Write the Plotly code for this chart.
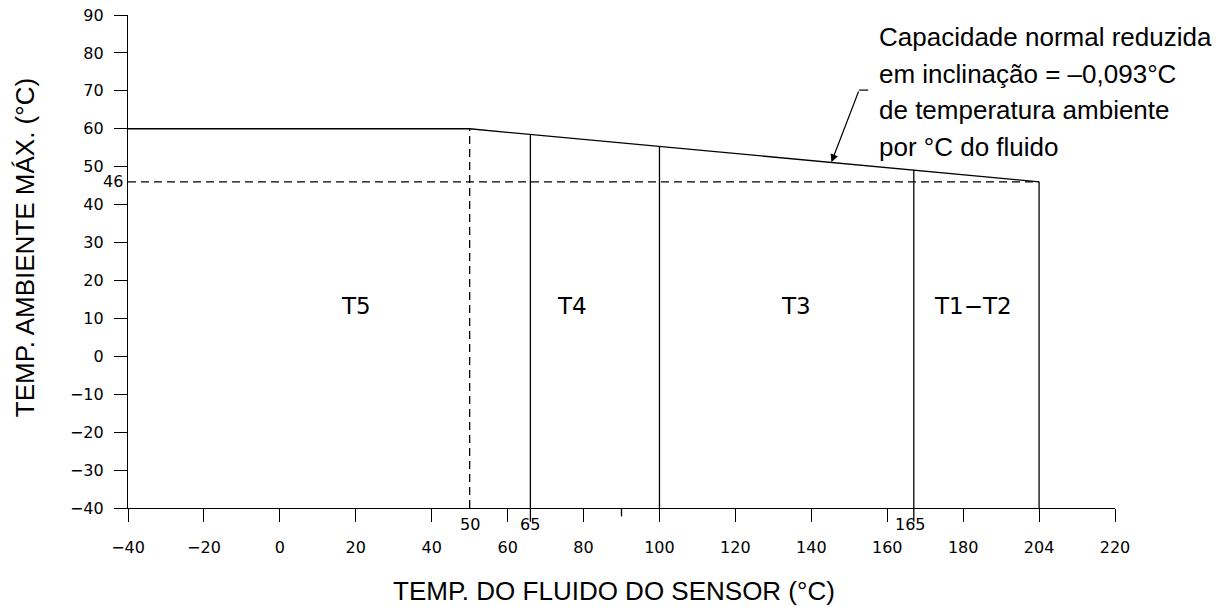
import plotly.graph_objects as go

# ambient limit envelope (fluid temp on the drawn scale, max ambient temp)
envelope_x = [-40, 50, 200]
envelope_y = [60, 60, 46]

# class boundaries: drawn position and top of each line
boundary_x = [66, 100, 167, 200]
boundary_top = [58.5, 55.3, 49.1, 46]
extra_x_labels = [(50, "50"), (66, "65"), (166, "165")]

limit_46 = 46
dashed_x = 50

classes = ["T5", "T4", "T3", "T1\u2212T2"]
class_x = [20, 77, 136, 182.5]
class_y = 13.3

x_ticks = [-40, -20, 0, 20, 40, 60, 80, 100, 120, 140, 160, 180, 200, 220]
x_ticktext = ["\u221240", "\u221220", "0", "20", "40", "60", "80", "100",
              "120", "140", "160", "180", "204", "220"]
y_ticks = list(range(-40, 100, 10))
y_ticktext = [str(v).replace("-", "\u2212") for v in y_ticks]

note_lines = ["Capacidade normal reduzida",
              "em inclinação = \u20130,093°C",
              "de temperatura ambiente",
              "por °C do fluido"]

TICK_FONT = "DejaVu Sans"
TEXT_FONT = "Liberation Sans, Arial, sans-serif"
LINE = dict(color="black", width=1.3)
DASH = dict(color="black", width=1.3, dash="8px,5px")

fig = go.Figure()

fig.add_trace(go.Scatter(x=envelope_x, y=envelope_y, mode="lines", line=LINE))
fig.add_trace(go.Scatter(x=[-40, envelope_x[-1]], y=[limit_46, limit_46],
                         mode="lines", line=DASH))
fig.add_trace(go.Scatter(x=[dashed_x, dashed_x], y=[-40, 60], mode="lines", line=DASH))
for bx, top in zip(boundary_x, boundary_top):
    fig.add_trace(go.Scatter(x=[bx, bx], y=[-40, top], mode="lines", line=LINE))

# tick extensions below the axis
for bx in [66, 167]:
    fig.add_shape(type="line", xref="x", yref="paper", x0=bx, x1=bx, y0=0, y1=-0.028,
                  line=LINE)
fig.add_shape(type="line", xref="x", yref="paper", x0=90, x1=90, y0=0, y1=-0.017,
              line=LINE)

annotations = []
for name, cx in zip(classes, class_x):
    annotations.append(dict(x=cx, y=class_y, text=name, showarrow=False,
                            font=dict(family=TICK_FONT, size=23, color="black")))
for xv, lab in extra_x_labels:
    annotations.append(dict(x=xv, y=0, yref="paper", text=lab, showarrow=False,
                            yanchor="top", yshift=-5,
                            font=dict(family=TICK_FONT, size=16, color="black")))
annotations.append(dict(x=0, xref="paper", y=limit_46, text="46", showarrow=False,
                        xanchor="right", xshift=-3,
                        font=dict(family=TICK_FONT, size=16, color="black")))

# slope note, one annotation per line
for i, line in enumerate(note_lines):
    annotations.append(dict(
        x=0.759, xref="paper", y=1.0, yref="paper", xanchor="left", yanchor="middle",
        yshift=-(22 + 36.5 * i), showarrow=False, text=line,
        font=dict(family=TEXT_FONT, size=26, color="black")))
annotations.append(dict(x=145.3, y=51.2, ax=152.6, ay=70.2, axref="x", ayref="y",
                        text="", showarrow=True, arrowhead=2, arrowsize=1.3,
                        arrowwidth=1.2, arrowcolor="black"))
fig.add_shape(type="line", x0=152.6, x1=155, y0=70.2, y1=70.2,
              line=dict(color="black", width=1.2))

# axis titles
annotations.append(dict(x=0.5, xref="paper", y=0, yref="paper", yanchor="middle",
                        xshift=-8, yshift=-83, showarrow=False,
                        text="TEMP. DO FLUIDO DO SENSOR (°C)",
                        font=dict(family=TEXT_FONT, size=26, color="black")))
annotations.append(dict(x=0, xref="paper", y=0.527, yref="paper", xanchor="center",
                        xshift=-103, textangle=-90, showarrow=False,
                        text="TEMP. AMBIENTE MÁX. (°C)",
                        font=dict(family=TEXT_FONT, size=26, color="black")))

# page body adds an 8px margin, so the figure is sized to fit the window
fig.update_layout(
    width=1223, height=599,
    margin=dict(l=120, r=116, t=7, b=99),
    plot_bgcolor="white", paper_bgcolor="white",
    showlegend=False,
    annotations=annotations,
    xaxis=dict(range=[-40, 220], tickvals=x_ticks, ticktext=x_ticktext,
               showgrid=False, zeroline=False, showline=True, linecolor="black",
               linewidth=1.3, ticks="outside", ticklen=13, tickwidth=1.3,
               tickcolor="black", ticklabelstandoff=12, ticklabeloverflow="allow",
               automargin=False,
               tickfont=dict(family=TICK_FONT, size=16, color="black")),
    yaxis=dict(range=[-40, 90], tickvals=y_ticks, ticktext=y_ticktext,
               showgrid=False, zeroline=False, showline=True, linecolor="black",
               linewidth=1.3, ticks="outside", ticklen=13, tickwidth=1.3,
               tickcolor="black", ticklabelstandoff=7, ticklabeloverflow="allow",
               automargin=False,
               tickfont=dict(family=TICK_FONT, size=16, color="black")),
)

fig.write_html("out.html")
